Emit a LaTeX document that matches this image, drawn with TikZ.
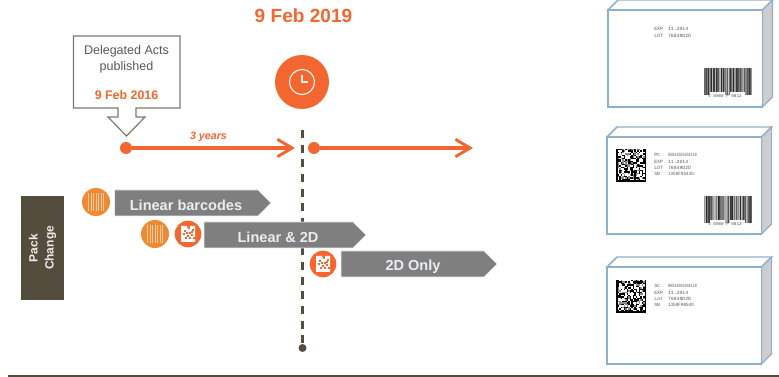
\documentclass[tikz,border=0pt]{standalone}
\usepackage{fontspec}
\usepackage{graphicx}
\setmainfont{Liberation Sans}
\setmonofont{Liberation Mono}
\usetikzlibrary{arrows.meta,calc}
\definecolor{accent}{HTML}{F4662F}
\definecolor{barorange}{HTML}{EF8A32}
\definecolor{chev}{HTML}{7F7F7F}
\definecolor{chevtext}{HTML}{E9EEF3}
\definecolor{brownish}{HTML}{544C3C}
\definecolor{packedge}{HTML}{8FB0CC}
\definecolor{packside}{HTML}{CDCDCD}
\definecolor{calloutedge}{HTML}{7A7A72}
\newcommand{\fsz}[1]{\fontsize{#1}{#1}\selectfont}
\tikzset{
  orangeline/.style={draw=accent,line width=2.6pt,-{Straight Barb[length=11pt,width=13pt,line width=2.2pt]}},
  enddot/.style={circle,fill=accent,inner sep=0pt,minimum size=9pt},
  chevron/.style={fill=chev,draw=white!85!chev,line width=0.5pt},
  chevlabel/.style={text=chevtext,font=\bfseries\fsz{10.9},inner sep=0pt},
  packfront/.style={draw=packedge,line width=1.1pt,fill=white},
  packtop/.style={draw=packedge,line width=1.1pt,fill=white},
  packsidefill/.style={draw=packedge,line width=0.8pt,fill=packside},
  packtext/.style={font=\ttfamily\fsz{3.6},text=black!65,anchor=west,inner sep=0pt},
  iconA/.style={circle,fill=barorange,inner sep=0pt,minimum size=21pt},
  iconB/.style={circle,fill=accent,inner sep=0pt,minimum size=20pt},
}
\newcommand{\packbox}[2]{% x, y of front top left
  \path[packtop] (#1,#2) -- ++(10,-10) -- ++(154.5,0) -- ++(-10,10) -- cycle;
  \path[packsidefill] (#1+154.5,#2) -- ++(10,-10) -- ++(0,97) -- ++(-10,10) -- cycle;
  \path[packfront] (#1,#2) rectangle ++(154.5,97);
}
\newcommand{\barcode}[2]{% x,y top left
  \foreach \i in {0,1,...,47}{
    \pgfmathtruncatemacro\lev{random(20,85)}
    \fill[black!\lev] (#1+\i,#2) rectangle ++(1,27);
  }
  \fill[white] (#1+6,#2+24.5) rectangle ++(15,3);
  \fill[white] (#1+26,#2+24.5) rectangle ++(15,3);
  \node[font=\ttfamily\fsz{3.2},text=black!70,inner sep=0pt] at (#1+21,#2+28) {5 0000 P 0012};
}
\newcommand{\matrixcode}[2]{% x,y top left
  \fill[black] (#1,#2) rectangle ++(30,33);
  \foreach \i in {1,...,18}{\foreach \j in {0,...,20}{
    \pgfmathtruncatemacro\bit{random(0,9)}
    \ifnum\bit<4
      \fill[white] (#1+\i*1.5,#2+\j*1.5) rectangle ++(1.5,1.5);
    \else\ifnum\bit<6
      \fill[black!45] (#1+\i*1.5,#2+\j*1.5) rectangle ++(1.5,1.5);
    \fi\fi
  }}
}
\newcommand{\stripes}[1]{% barcode glyph on a named icon
  \foreach \dx/\w in {-8/1.4,-5.5/0.8,-3.5/1.6,-0.5/0.9,1.5/1.7,4.5/0.8,6.5/1.4}{
    \fill[white!55!barorange] ($(#1)+(\dx,-9)$) rectangle ($(#1)+(\dx+\w,9)$);
  }
}
\newcommand{\qrglyph}[1]{% 2D glyph on a named icon
  \fill[white] ($(#1)+(-7,-8)$) -- ($(#1)+(-1,-8)$) -- ($(#1)+(0,-5)$) -- ($(#1)+(2,-5)$) -- ($(#1)+(2,-8)$)
     -- ($(#1)+(7,-8)$) -- ($(#1)+(7,8)$) -- ($(#1)+(-7,8)$) -- cycle;
  \foreach \dx/\dy in {-4/-4,-2/-2,-5/-1,-1/1,1/-2,3/0,1/3,4/-5,-3/3,5/3,3/-3}{
    \fill[accent] ($(#1)+(\dx,\dy)$) rectangle ++(1.6,1.6);
  }
}
\begin{document}
\begin{tikzpicture}[x=0.75pt,y=-0.75pt]
\useasboundingbox (0,0) rectangle (779,377);
\fill[white] (0,0) rectangle (779,377);
\pgfmathsetseed{4711}

% central dashed axis
\node[circle,fill=brownish,inner sep=0pt,minimum size=6pt] (axisend) at (302.5,348) {};
\coordinate (axisstart) at (302.5,130);
\draw[brownish,line width=1.6pt,dash pattern=on 6pt off 5pt] (axisstart) -- (axisend);

% title and clock
\node[text=accent,font=\bfseries\fsz{14.3},inner sep=0pt] (title) at (303.5,16) {9 Feb 2019};
\node[circle,fill=accent,inner sep=0pt,minimum size=40.5pt] (clock) at (302,82) {};
\draw[white!90!accent,line width=0.9pt] (clock.center) circle[radius=9.4pt];
\draw[white!90!accent,line width=0.9pt] ($(clock.center)+(0,-7)$) -- (clock.center) -- ($(clock.center)+(6,0)$);

% callout
\draw[calloutedge,line width=0.9pt,fill=white] (73.5,36) -- (180,36) -- (180,108) -- (136,108) -- (136,117)
  -- (145,117) -- (126.5,136) -- (108,117) -- (118,117) -- (118,108) -- (73.5,108) -- cycle;
\node[text=black!65,font=\fontsize{9.4}{12}\selectfont,align=center,inner sep=0pt] (acts) at (126.5,59) {Delegated Acts\\published};
\node[text=accent,font=\bfseries\fsz{9.3},inner sep=0pt] (pubdate) at (126.5,95.5) {9 Feb 2016};

% timeline
\node[enddot] (t1) at (126,148) {};
\coordinate (t1end) at (295,148);
\draw[orangeline] (t1) -- (t1end);
\node[enddot] (t2) at (314,148) {};
\coordinate (t2end) at (473,148);
\draw[orangeline] (t2) -- (t2end);
\node[text=accent,font=\bfseries\itshape\fsz{8},inner sep=0pt] (years) at (208.5,137) {3 years};

% chevrons
\path[chevron] (114.5,190) -- (258,190) -- (271,203) -- (258,216) -- (114.5,216) -- cycle;
\node[chevlabel] (c1) at (186,205.5) {Linear barcodes};
\path[chevron] (204,222) -- (353,222) -- (366,235) -- (353,248) -- (204,248) -- cycle;
\node[chevlabel] (c2) at (278,237) {Linear \& 2D};
\path[chevron] (341,251) -- (484,251) -- (497,264) -- (484,277) -- (341,277) -- cycle;
\node[chevlabel] (c3) at (413,266.5) {2D Only};

% icons
\node[iconA] (i1) at (96,202) {}; \stripes{i1}
\node[iconA] (i2) at (155,234) {}; \stripes{i2}
\node[iconB] (i3) at (188,234) {}; \qrglyph{i3}
\node[iconB] (i4) at (323,264) {}; \qrglyph{i4}

% pack change
\fill[brownish] (21,196) rectangle (64,300);
\node[rotate=90,text=white!90!brownish,font=\fontsize{9}{12}\selectfont\bfseries,align=center,inner sep=0pt] (pack) at (42.5,248) {Pack\\Change};

% pack 1
\packbox{608}{10}
\node[packtext] (a1) at (654,29) {\makebox[10.3pt][l]{EXP}11.2014};
\node[packtext] (a2) at (654,35.5) {\makebox[10.3pt][l]{LOT}76849D2D};
\barcode{704}{68}

% pack 2
\packbox{607}{137}
\matrixcode{616}{149}
\node[packtext] (b1) at (654,155) {\makebox[10.3pt][l]{PC}\scalebox{0.72}[1]{05034200358118}};
\node[packtext] (b2) at (654,161.5) {\makebox[10.3pt][l]{EXP}11.2014};
\node[packtext] (b3) at (654,167.5) {\makebox[10.3pt][l]{LOT}76849D2D};
\node[packtext] (b4) at (654,174) {\makebox[10.3pt][l]{SN}\scalebox{0.9}[1]{1358F9543D}};
\barcode{704}{196}

% pack 3
\packbox{607}{267}
\matrixcode{616}{280}
\node[packtext] (c1t) at (654,286) {\makebox[10.3pt][l]{SC}\scalebox{0.72}[1]{08534200358118}};
\node[packtext] (c2t) at (654,292.5) {\makebox[10.3pt][l]{EXP}11.2014};
\node[packtext] (c3t) at (654,298.5) {\makebox[10.3pt][l]{Lot}76849D2D};
\node[packtext] (c4t) at (654,304.5) {\makebox[10.3pt][l]{SN}\scalebox{0.9}[1]{1358F9B54D}};

% bottom rule
\coordinate (ruleL) at (8,376);
\coordinate (ruleR) at (779,376);
\draw[brownish,line width=1.3pt] (ruleL) -- (ruleR);
\end{tikzpicture}
\end{document}
